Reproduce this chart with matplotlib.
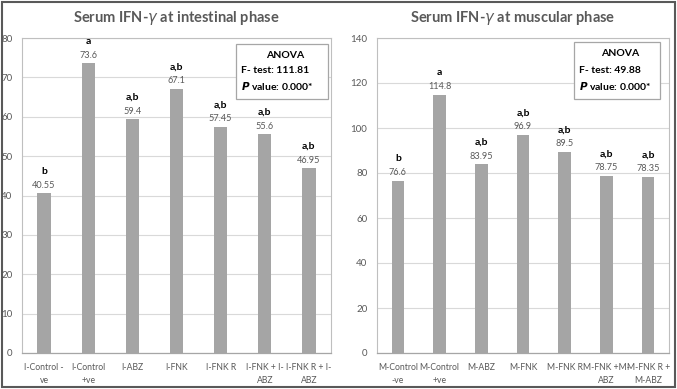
import matplotlib
matplotlib.use("Agg")
import matplotlib.pyplot as plt
from matplotlib.patches import Rectangle
import numpy as np

plt.rcParams['font.family'] = ['Lato', 'DejaVu Sans']
plt.rcParams['mathtext.fontset'] = 'dejavusans'

# ---- data ----
cats_i = ["I-Control -\nve", "I-Control\n+ve", "I-ABZ", "I-FNK", "I-FNK R",
          "I-FNK + I-\nABZ", "I-FNK R + I-\nABZ"]
vals_i = [40.55, 73.6, 59.4, 67.1, 57.45, 55.6, 46.95]
labels_i = ["40.55", "73.6", "59.4", "67.1", "57.45", "55.6", "46.95"]
letters_i = ["b", "a", "a,b", "a,b", "a,b", "a,b", "a,b"]
anova_i = ["ANOVA", "F- test: 111.81", "0.000*"]

cats_m = ["M-Control\n-ve", "M-Control\n+ve", "M-ABZ", "M-FNK", "M-FNK R",
          "M-FNK +M-\nABZ", "M-FNK R +\nM-ABZ"]
vals_m = [76.6, 114.8, 83.95, 96.9, 89.5, 78.75, 78.35]
labels_m = ["76.6", "114.8", "83.95", "96.9", "89.5", "78.75", "78.35"]
letters_m = ["b", "a", "a,b", "a,b", "a,b", "a,b", "a,b"]
anova_m = ["ANOVA", "F- test: 49.88", "0.000*"]

BAR = "#a5a5a5"
TXT = "#595959"
GRID = "#d9d9d9"

fig = plt.figure(figsize=(6.77, 3.89), dpi=100)
W, H = 677, 389

def px_axes(x0, x1, y0, y1):
    return fig.add_axes([x0 / W, 1 - y1 / H, (x1 - x0) / W, (y1 - y0) / H])

def panel(ax, cats, vals, labels, letters, anova, ymax, ystep, box):
    x = np.arange(len(cats))
    ax.bar(x, vals, width=0.3, color=BAR, zorder=3)
    ax.set_xlim(-0.5, len(cats) - 0.5)
    ax.set_ylim(0, ymax)
    ax.set_yticks(np.arange(0, ymax + 1, ystep))
    ax.yaxis.grid(True, color=GRID, linewidth=0.8, zorder=0)
    ax.set_axisbelow(True)
    ax.set_xticks(x)
    ax.set_xticklabels(cats, fontsize=6.2, color=TXT, linespacing=1.55)
    ax.tick_params(axis='x', length=0, pad=7, labelsize=6.2, colors=TXT)
    ax.tick_params(axis='y', length=0, pad=7, labelsize=7, colors=TXT)
    for s in ['top', 'right', 'left']:
        ax.spines[s].set_color('#bfbfbf')
        ax.spines[s].set_linewidth(0.8)
    ax.spines['bottom'].set_color('#a6a6a6')
    ax.spines['bottom'].set_linewidth(0.9)
    for xi, v, lab, let in zip(x, vals, labels, letters):
        ax.annotate(lab, (xi, v), xytext=(0, 4), textcoords='offset points',
                    ha='center', va='baseline', fontsize=6.6, color=TXT)
        ax.annotate(let, (xi, v), xytext=(0, 14), textcoords='offset points',
                    ha='center', va='baseline', fontsize=7.5, color='black',
                    fontweight='bold')
    bx0, bx1, by0, by1 = box
    ax.add_patch(Rectangle((bx0, by0), bx1 - bx0, by1 - by0, transform=ax.transAxes,
                           facecolor='white', edgecolor='#a6a6a6', linewidth=0.9,
                           zorder=5))
    h = by1 - by0
    ax.text((bx0 + bx1) / 2 + 0.01, by1 - 0.2 * h, anova[0], transform=ax.transAxes,
            ha='center', va='center', fontsize=7.5, fontweight='bold', zorder=6)
    ax.text(bx0 + 0.017, by1 - 0.49 * h, anova[1], transform=ax.transAxes,
            ha='left', va='center', fontsize=7.5, fontweight='bold', zorder=6)
    ax.text(bx0 + 0.017, by1 - 0.77 * h,
            r"$\mathbfit{P}$" + " value: " + anova[2], transform=ax.transAxes,
            ha='left', va='center', fontsize=7.5, fontweight='bold', zorder=6)

ax1 = px_axes(22, 331, 38, 353)
panel(ax1, cats_i, vals_i, labels_i, letters_i, anova_i, 80, 10,
      (0.693, 0.99, 0.806, 0.981))
ax2 = px_axes(377, 669, 38, 353)
panel(ax2, cats_m, vals_m, labels_m, letters_m, anova_m, 140, 20,
      (0.675, 0.969, 0.806, 0.987))

fig.text(176 / W, 1 - 18 / H, r"Serum IFN-$\mathit{\gamma}$ at intestinal phase",
         ha='center', va='center', fontsize=10.5, fontweight='bold', color=TXT)
fig.text(513 / W, 1 - 18 / H, r"Serum IFN-$\mathit{\gamma}$ at muscular phase",
         ha='center', va='center', fontsize=10.5, fontweight='bold', color=TXT)

fig.add_artist(Rectangle((2 / W, 2 / H), (W - 4) / W, (H - 4) / H,
                         transform=fig.transFigure, fill=False,
                         edgecolor='#595959', linewidth=1.5))

fig.savefig("out.png", dpi=100)
